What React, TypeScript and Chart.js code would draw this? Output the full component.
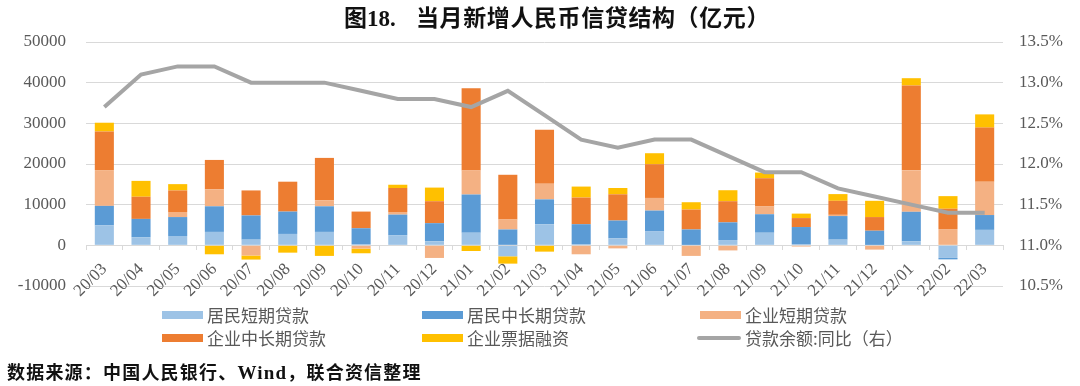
import React, { useEffect, useRef } from "react";
import { Chart, registerables } from "chart.js";

Chart.register(...registerables);

const categories = [
  "20/03", "20/04", "20/05", "20/06", "20/07", "20/08", "20/09", "20/10", "20/11", "20/12",
  "21/01", "21/02", "21/03", "21/04", "21/05", "21/06", "21/07", "21/08", "21/09", "21/10",
  "21/11", "21/12", "22/01", "22/02", "22/03",
];

// 居民短期贷款
const householdShort = [
  4900, 2000, 2300, 3300, 1400, 2800, 3300, 200, 2500, 1000,
  3100, -2700, 5200, 200, 1700, 3400, 100, 1300, 3100, 200,
  1400, 100, 1000, -3100, 3800,
];
// 居民中长期贷款
const householdMidLong = [
  4800, 4500, 4650, 6300, 5950, 5500, 6300, 4000, 5050, 4450,
  9400, 3900, 6100, 5000, 4400, 5150, 3800, 4350, 4550, 4300,
  5800, 3500, 7250, -350, 3650,
];
// 企业短期贷款
const corpShort = [
  8800, 0, 1250, 4150, -2500, 0, 1450, -800, 650, -3100,
  5900, 2450, 3850, -2200, -750, 3100, -2600, -1250, 1900, -300,
  300, -1050, 10200, 4000, 8200,
];
// 企业中长期贷款
const corpMidLong = [
  9500, 5450, 5300, 7250, 6150, 7350, 10450, 4100, 5900, 5400,
  20250, 11000, 13250, 6550, 6450, 8300, 4900, 5200, 6950, 2200,
  3450, 3350, 20850, 5000, 13300,
];
// 企业票据融资
const billFinancing = [
  2150, 3900, 1550, -2200, -1000, -1800, -2600, -1150, 800, 3350,
  -1400, -1800, -1550, 2700, 1550, 2700, 1800, 2700, 1400, 1100,
  1650, 4000, 1800, 3100, 3250,
];
// 贷款余额:同比（右）
const loanGrowth = [
  12.7, 13.1, 13.2, 13.2, 13.0, 13.0, 13.0, 12.9, 12.8, 12.8,
  12.7, 12.9, 12.6, 12.3, 12.2, 12.3, 12.3, 12.1, 11.9, 11.9,
  11.7, 11.6, 11.5, 11.4, 11.4,
];

const leftTicks = { min: -10000, max: 50000, step: 10000 };
const rightTicks = { min: 10.5, max: 13.5, step: 0.5 };

const seriesNames = [
  "居民短期贷款",
  "居民中长期贷款",
  "企业短期贷款",
  "企业中长期贷款",
  "企业票据融资",
  "贷款余额:同比（右）",
];
const colors = ["#9dc3e6", "#5b9bd5", "#f4b183", "#ed7d31", "#ffc000", "#a5a5a5"];

const serif = "'Liberation Serif', 'Times New Roman', serif";
const tickFont = { family: serif, size: 17 };
const axisTextColor = "#595959";
const gridColor = "#d9d9d9";

export default function App() {
  const canvasRef = useRef<HTMLCanvasElement | null>(null);

  useEffect(() => {
    const canvas = canvasRef.current;
    if (!canvas) return;
    const barSeries = [householdShort, householdMidLong, corpShort, corpMidLong, billFinancing];
    const chart = new Chart(canvas, {
      type: "bar",
      data: {
        labels: categories,
        datasets: [
          ...barSeries.map((d, i) => ({
            type: "bar" as const,
            label: seriesNames[i],
            data: d,
            backgroundColor: colors[i],
            borderWidth: 0,
            yAxisID: "y",
            order: 1,
            barPercentage: 0.52,
            categoryPercentage: 1.0,
          })),
          {
            type: "line" as const,
            label: seriesNames[5],
            data: loanGrowth,
            borderColor: colors[5],
            backgroundColor: colors[5],
            borderWidth: 4,
            pointRadius: 0,
            tension: 0,
            fill: false,
            yAxisID: "y1",
            order: 0,
          },
        ],
      } as any,
      options: {
        responsive: false,
        animation: false,
        layout: { padding: { top: 42, bottom: 100, left: 0, right: 0 } },
        plugins: {
          legend: { display: false },
          tooltip: { enabled: false },
          title: { display: false },
        },
        scales: {
          x: {
            axis: "x",
            type: "category",
            stacked: true,
            position: { y: 0 } as any,
            grid: {
              display: true,
              drawOnChartArea: false,
              drawTicks: true,
              tickLength: 4,
              color: gridColor,
              offset: true,
            },
            border: { display: true, color: gridColor },
            ticks: {
              minRotation: 45,
              maxRotation: 45,
              autoSkip: false,
              font: { family: serif, size: 17 },
              color: axisTextColor,
              padding: 10,
            },
          },
          y: {
            type: "linear",
            position: "left",
            stacked: true,
            min: leftTicks.min,
            max: leftTicks.max,
            ticks: {
              stepSize: leftTicks.step,
              font: tickFont,
              color: axisTextColor,
              padding: 20,
              callback: (v: any) => String(v),
            },
            grid: { color: gridColor, drawTicks: false, lineWidth: 1 },
            border: { display: false },
            afterFit: (s: any) => {
              s.width = 86;
            },
          },
          y1: {
            type: "linear",
            position: "right",
            stacked: false,
            min: rightTicks.min,
            max: rightTicks.max,
            ticks: {
              stepSize: rightTicks.step,
              font: tickFont,
              color: axisTextColor,
              padding: 16,
              callback: (v: any) => Number(v).toFixed(1) + "%",
            },
            grid: { drawOnChartArea: false, drawTicks: false },
            border: { display: false },
            afterFit: (s: any) => {
              s.width = 77;
            },
          },
        },
      } as any,
    });
    return () => chart.destroy();
  }, []);

  const cjk = "'Noto Sans CJK SC', 'Noto Sans', sans-serif";
  const legendCols = [162, 422, 700];
  const legendRows = [315, 338];

  const titleStyle: React.CSSProperties = {
    position: "absolute",
    top: 3,
    fontFamily: cjk,
    fontWeight: 700,
    fontSize: 23,
    lineHeight: "26px",
    color: "#111111",
    whiteSpace: "pre",
  };

  return (
    <div
      style={{
        position: "absolute",
        left: 0,
        top: 0,
        width: 1080,
        height: 386,
        background: "#ffffff",
        overflow: "hidden",
      }}
    >
      <canvas
        ref={canvasRef}
        width={1080}
        height={386}
        style={{ position: "absolute", left: 0, top: 0, width: 1080, height: 386 }}
      />
      <div style={{ ...titleStyle, left: 344 }}>
        图<span style={{ fontFamily: serif }}>18.</span>
      </div>
      <div style={{ ...titleStyle, left: 416, letterSpacing: "0.6px" }}>
        当月新增人民币信贷结构（亿元）
      </div>
      {seriesNames.map((name, i) => {
        const col = i % 3;
        const row = Math.floor(i / 3);
        const x = legendCols[col];
        const y = legendRows[row];
        const isLine = i === 5;
        return (
          <div key={name}>
            <div
              style={{
                position: "absolute",
                left: isLine ? x - 3 : x,
                top: isLine ? y - 2 : y - 4,
                width: isLine ? 44 : 41,
                height: isLine ? 4 : 8,
                background: colors[i],
                borderRadius: isLine ? 2 : 0,
              }}
            />
            <div
              style={{
                position: "absolute",
                left: x + 45,
                top: y - 11,
                fontFamily: cjk,
                fontSize: 17,
                lineHeight: "22px",
                color: axisTextColor,
                whiteSpace: "pre",
              }}
            >
              {name}
            </div>
          </div>
        );
      })}
      <div
        style={{
          position: "absolute",
          left: 7,
          top: 360,
          fontFamily: cjk,
          fontWeight: 700,
          fontSize: 18,
          lineHeight: "22px",
          color: "#111111",
          whiteSpace: "pre",
          letterSpacing: "1.2px",
        }}
      >
        数据来源：中国人民银行、<span style={{ fontFamily: serif, fontSize: 19 }}>Wind</span>，联合资信整理
      </div>
    </div>
  );
}
